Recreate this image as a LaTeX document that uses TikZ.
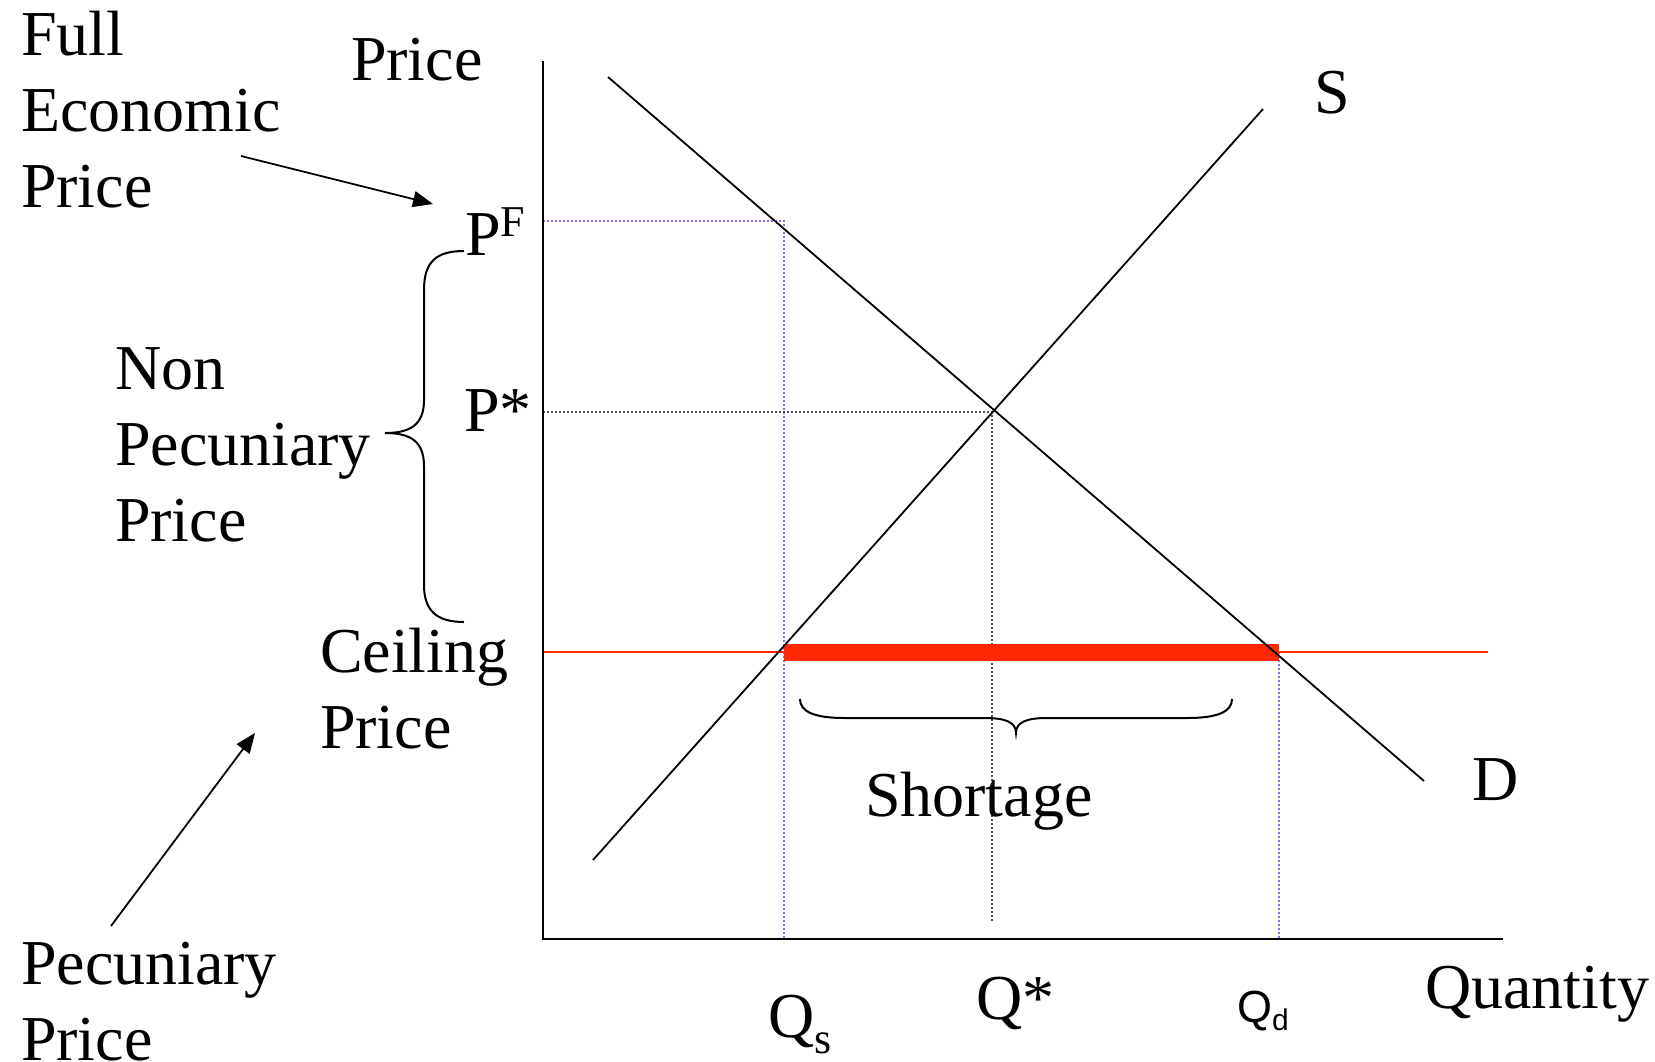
\documentclass[tikz,border=0pt]{standalone}
\usepackage{fontspec}
\setmainfont{Liberation Serif}
\newfontfamily\arialfont{Liberation Sans}
\usetikzlibrary{arrows.meta}
\definecolor{ceilred}{RGB}{255,40,0}
\definecolor{dotpurple}{RGB}{150,100,230}
\definecolor{dotgray}{RGB}{80,80,80}
\begin{document}
\begin{tikzpicture}[x=1pt,y=-1pt,
  lbl/.style={inner sep=0pt, outer sep=0pt, font=\fontsize{64}{76}\selectfont, align=left},
  axisline/.style={line width=2.6pt},
  curveline/.style={line width=1.8pt},
  bracel/.style={line width=2pt},
  guidep/.style={dotpurple, line width=1.6pt, dash pattern=on 1.6pt off 2.4pt},
  guideg/.style={dotgray, line width=1.6pt, dash pattern=on 1.6pt off 2.4pt},
  ceil/.style={ceilred, line width=1.6pt},
  shortbar/.style={ceilred, line width=17pt},
  pointer/.style={line width=1.8pt, -{Triangle[length=20pt,width=16pt]}}]
\useasboundingbox (0,0) rectangle (1655,1061);
\fill[white] (0,0) rectangle (1655,1061);

% coordinates
\coordinate (ytop) at (543,61);
\coordinate (orig) at (543,939);
\coordinate (xend) at (1503,939);
\coordinate (dA) at (608,77);
\coordinate (dB) at (1424,781);
\coordinate (sA) at (593,860);
\coordinate (sB) at (1263,109);
\coordinate (pfL) at (543,221);
\coordinate (pfR) at (784,221);
\coordinate (qsB) at (784,939);
\coordinate (psL) at (543,412);
\coordinate (eq) at (992,412);
\coordinate (qstarB) at (992,922);
\coordinate (cL) at (543,652);
\coordinate (cR) at (1488,652);
\coordinate (barL) at (784,652);
\coordinate (barR) at (1279,652);
\coordinate (qdB) at (1279,939);

% guide lines
\draw[guidep] (pfL) -- (pfR) -- (qsB);
\draw[guideg] (psL) -- (eq) -- (qstarB);
\draw[guidep] (barR) -- (qdB);
% ceiling
\draw[ceil] (cL) -- (cR);
\draw[shortbar] (barL) -- (barR);
% curves
\draw[curveline] (dA) -- (dB);
\draw[curveline] (sA) -- (sB);
% axes
\draw[axisline] (ytop) -- (orig) -- (xend);

% labels
\node[lbl, anchor=north west] (fep) at (21,11) {Full\\Economic\\Price};
\node[lbl, anchor=base west] (pricelab) at (351,80) {Price};
\node[lbl, anchor=base west] (slab) at (1314,113) {S};
\node[lbl, anchor=base west] (dlab) at (1472,800) {D};
\node[lbl, anchor=base west] (qlab) at (1425,1008) {Quantity};
\node[lbl, anchor=base west] (shortlab) at (865,816) {Shortage};
\node[lbl, anchor=north west] (nonpec) at (115,348) {Non\\Pecuniary\\Price};
\node[lbl, anchor=north west] (ceillab) at (320,628) {Ceiling\\Price};
\node[lbl, anchor=north west] (peclab) at (21,942) {Pecuniary\\Price};
\node[lbl, anchor=base west] (pf) at (465,255) {P\raisebox{19pt}{\fontsize{44}{44}\selectfont F}};
\node[lbl, anchor=base west] (pstar) at (464,431) {P*};
\node[lbl, anchor=base west] (qs) at (768,1037) {Q\raisebox{-16pt}{\fontsize{44}{44}\selectfont s}};
\node[lbl, anchor=base west] (qstar) at (976,1019) {Q*};
\node[inner sep=0pt, anchor=base west, font=\arialfont\fontsize{45}{45}\selectfont] (qd) at (1237,1022) {Q\raisebox{-8pt}{\fontsize{30}{30}\selectfont d}};

% arrows
\coordinate (fepA) at (241,156);
\coordinate (fepB) at (433,204);
\draw[pointer] (fepA) -- (fepB);
\coordinate (pecA) at (111,926);
\coordinate (pecB) at (255,733);
\draw[pointer] (pecA) -- (pecB);

% left brace
\draw[bracel] (464,251) .. controls (436,251) and (424,262) .. (424,290) -- (424,400)
  .. controls (424,425) and (410,433) .. (385,433)
  .. controls (410,433) and (424,441) .. (424,466) -- (424,585)
  .. controls (424,610) and (436,622) .. (464,622);
% shortage brace
\draw[bracel] (800,699) .. controls (800,712) and (815,718) .. (845,718) -- (985,718)
  .. controls (1005,718) and (1016,722) .. (1016,733)
  .. controls (1016,722) and (1027,718) .. (1047,718) -- (1187,718)
  .. controls (1217,718) and (1232,712) .. (1232,699);
\end{tikzpicture}
\end{document}
